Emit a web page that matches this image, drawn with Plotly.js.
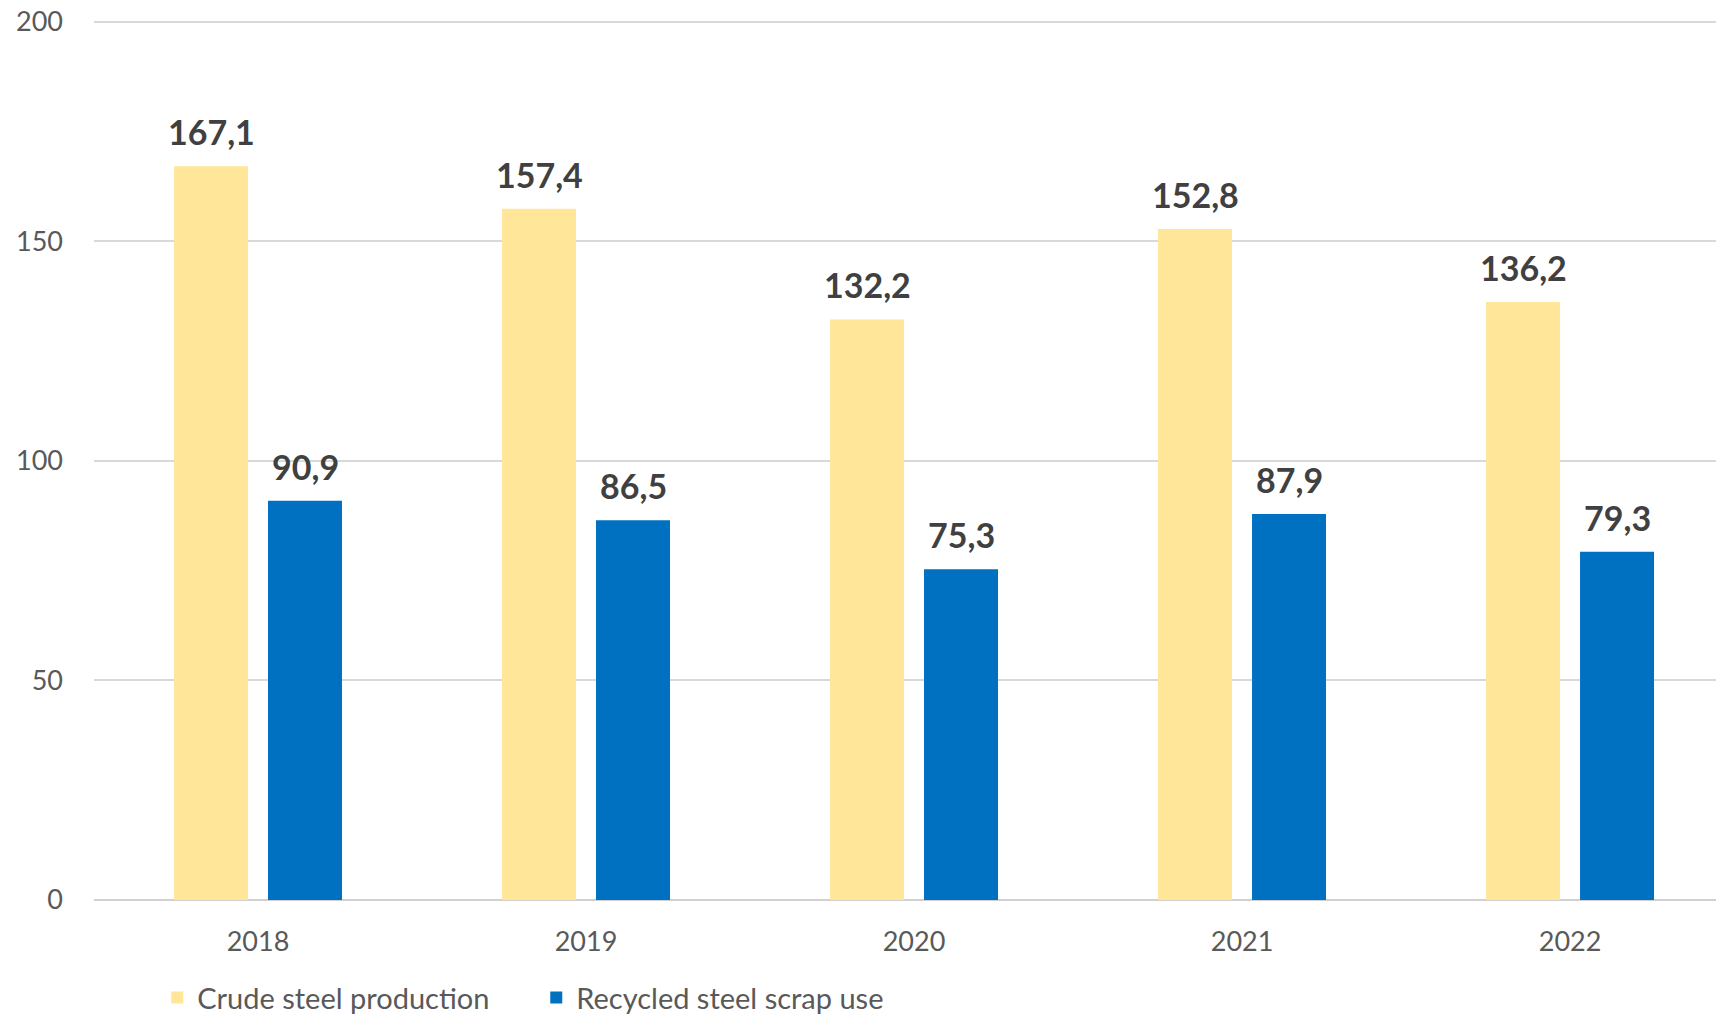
<!DOCTYPE html>
<html>
<head>
<meta charset="utf-8">
<script src="https://cdn.plot.ly/plotly-3.0.1.min.js"></script>
<style>
html,body{margin:0;padding:0;background:#fff;}
#chart{width:1716px;height:1019px;}
</style>
</head>
<body>
<div id="chart"></div>
<script>
const years = ["2018", "2019", "2020", "2021", "2022"];
const crudeSteel = [167.1, 157.4, 132.2, 152.8, 136.2];
const scrapUse = [90.9, 86.5, 75.3, 87.9, 79.3];
const seriesNames = ["Crude steel production", "Recycled steel scrap use"];
const yTicks = [0, 50, 100, 150, 200];

const fmt = v => v.toFixed(1).replace('.', ',');

const traces = [
  {type: 'bar', name: seriesNames[0], x: years, y: crudeSteel,
   marker: {color: '#FFE699'}, hoverinfo: 'x+y'},
  {type: 'bar', name: seriesNames[1], x: years, y: scrapUse,
   marker: {color: '#0070C0'}, hoverinfo: 'x+y'}
];

const labelFont = {family: 'Lato, sans-serif', size: 34, color: '#404040'};
const annotations = [];
years.forEach((yr, i) => {
  annotations.push({x: i, y: crudeSteel[i], xref: 'x', yref: 'y', text: '<b>' + fmt(crudeSteel[i]) + '</b>',
    showarrow: false, xshift: -47, yshift: 12, xanchor: 'center', yanchor: 'bottom', font: labelFont});
  annotations.push({x: i, y: scrapUse[i], xref: 'x', yref: 'y', text: '<b>' + fmt(scrapUse[i]) + '</b>',
    showarrow: false, xshift: 47, yshift: 12, xanchor: 'center', yanchor: 'bottom', font: labelFont});
});

const layout = {
  width: 1716, height: 1019,
  margin: {l: 94, r: 0, t: 20, b: 119, autoexpand: false},
  paper_bgcolor: '#ffffff', plot_bgcolor: '#ffffff',
  barmode: 'group', bargap: 0.427, bargroupgap: 0.2128,
  separators: ',.',
  font: {family: 'Lato, sans-serif', size: 27, color: '#595959'},
  xaxis: {type: 'category', range: [-0.5, 4.445], showgrid: false, zeroline: false,
    showline: false, ticks: '', ticklabelstandoff: 23,
    tickfont: {family: 'Lato, sans-serif', size: 27, color: '#595959'}},
  yaxis: {range: [0, 200.4], tickvals: yTicks, ticktext: yTicks.map(String), showgrid: true, gridcolor: '#d9d9d9', gridwidth: 2,
    zeroline: true, zerolinecolor: '#d0d0d0', zerolinewidth: 2, showline: false, ticks: '',
    ticklabelstandoff: 30,
    tickfont: {family: 'Lato, sans-serif', size: 27, color: '#595959'}},
  showlegend: true,
  legend: {orientation: 'h', x: 0.039, y: -0.111, xanchor: 'left', yanchor: 'middle',
    font: {family: 'Lato, sans-serif', size: 29, color: '#595959'}, entrywidth: 334,
    bgcolor: 'rgba(0,0,0,0)'},
  annotations: annotations
};

Plotly.newPlot('chart', traces, layout, {displayModeBar: false, staticPlot: true});
</script>
</body>
</html>
